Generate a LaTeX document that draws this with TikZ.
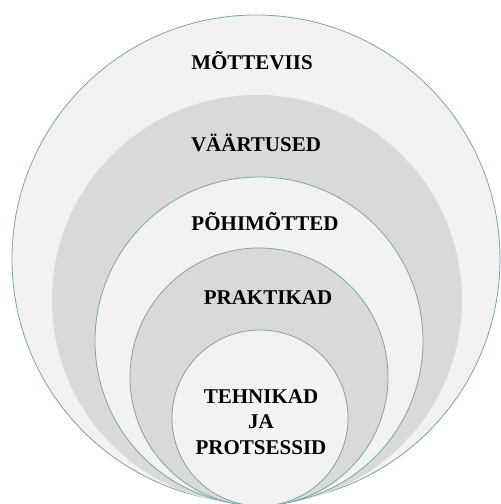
\documentclass[tikz,border=0pt]{standalone}
\usepackage{fontspec}
\setmainfont{Liberation Serif}
\definecolor{ringline}{RGB}{122,166,168}
\definecolor{ringlight}{RGB}{242,242,242}
\definecolor{ringdark}{RGB}{217,217,217}
\newcommand{\ring}[4]{\filldraw[fill=#4, #3] (#1) circle (#2)}

\begin{document}
\begin{tikzpicture}[x=1pt, y=1pt,
    lbl/.style={anchor=base, font=\fontsize{21}{25.5}\selectfont\bfseries, align=center}]
                    \useasboundingbox (0,0) rectangle (501,504);
                    \fill[white] (0,0) rectangle (501,504);

                    \ring{256,245}{244}{draw=ringline, line width=0.8pt}{ringlight};
                    \ring{257,204}{205}{draw=none}{ringdark};
                    \ring{259,163}{164}{draw=ringline, line width=0.8pt}{ringlight};
                    \ring{259,127}{129}{draw=ringline, line width=0.8pt}{ringdark};
                    \ring{260,86}{88}{draw=ringline, line width=0.8pt}{ringlight};

                    \node[lbl] (mote) at (252,434) {MÕTTEVIIS};
                    \node[lbl] (vaar) at (256,352) {VÄÄRTUSED};
                    \node[lbl] (pohi) at (265,273) {PÕHIMÕTTED};
                    \node[lbl] (prak) at (268,199) {PRAKTIKAD};
                    \node[lbl, anchor=north] (tehn) at (261,118) {TEHNIKAD\\JA\\PROTSESSID};
                \end{tikzpicture}
\end{document}
